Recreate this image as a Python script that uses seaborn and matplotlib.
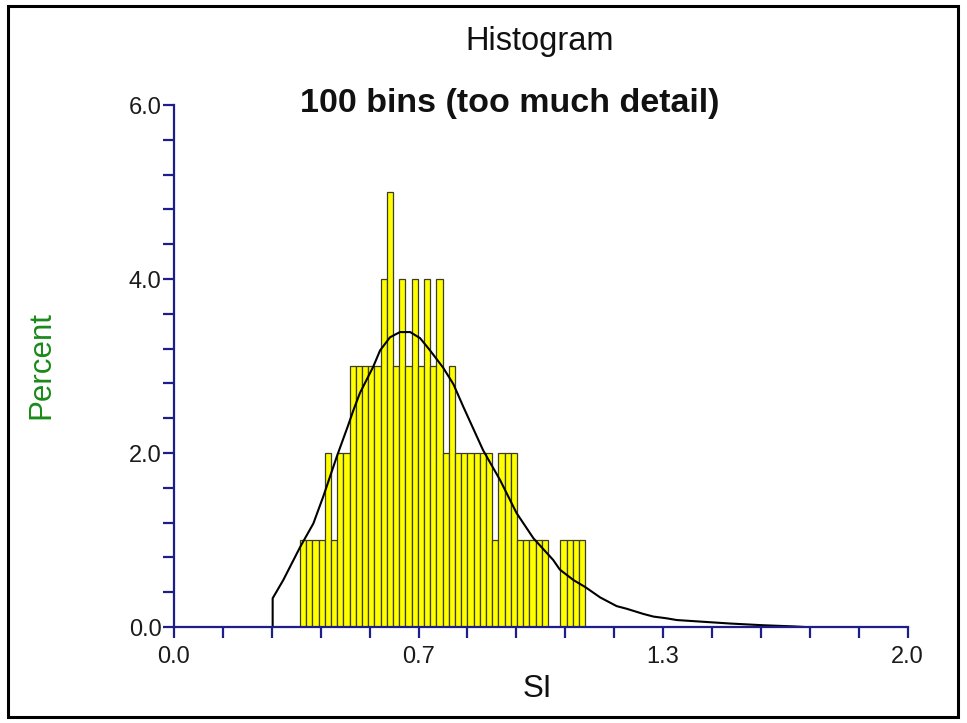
import numpy as np
import pandas as pd
import matplotlib
matplotlib.use("Agg")
import matplotlib.pyplot as plt
from matplotlib.patches import Rectangle
from matplotlib.ticker import MultipleLocator
import seaborn as sns

# ---------------- data ----------------
bin_start = 0.3436
bin_width = 0.01690
percents = [1, 1, 1, 1, 2, 1, 2, 2, 3, 3, 3, 3, 3, 4, 5, 3, 4, 3, 4, 3, 4, 3, 4,
            2, 3, 2, 2, 2, 2, 2, 2, 1, 2, 2, 2, 1, 1, 1, 1, 1, 0, 0, 1, 1, 1, 1]

curve_x = [0.269, 0.269, 0.298, 0.344, 0.380, 0.407, 0.444, 0.475, 0.489, 0.507,
           0.525, 0.543, 0.562, 0.589, 0.616, 0.644, 0.671, 0.698, 0.734, 0.762,
           0.789, 0.843, 0.889, 0.934, 0.980, 1.034, 1.052, 1.089, 1.121, 1.162,
           1.207, 1.234, 1.280, 1.307, 1.343, 1.371, 1.425, 1.516, 1.607, 1.689,
           1.720]
curve_y = [0.0, 0.33, 0.54, 0.92, 1.19, 1.50, 1.96, 2.32, 2.49, 2.69,
           2.84, 2.99, 3.18, 3.33, 3.39, 3.39, 3.32, 3.18, 2.98, 2.79,
           2.53, 2.03, 1.69, 1.31, 1.02, 0.77, 0.66, 0.54, 0.46, 0.34,
           0.24, 0.21, 0.15, 0.12, 0.10, 0.08, 0.065, 0.04, 0.02, 0.007,
           0.0]

x_ticks = [0.0, 2/3, 4/3, 2.0]
x_tick_labels = ["0.0", "0.7", "1.3", "2.0"]
y_ticks = [0.0, 2.0, 4.0, 6.0]
y_tick_labels = ["0.0", "2.0", "4.0", "6.0"]

title = "Histogram"
subtitle = "100 bins (too much detail)"
x_label = "SI"
y_label = "Percent"

# ---------------- plot ----------------
sns.set_theme(style="white")
plt.rcParams['font.family'] = ['Liberation Sans', 'DejaVu Sans']

edges = [bin_start + bin_width * i for i in range(len(percents) + 1)]
centers = [(edges[i] + edges[i + 1]) / 2 for i in range(len(percents))]
df = pd.DataFrame({"SI": centers, "pct": percents})
cdf = pd.DataFrame({"x": curve_x, "y": curve_y})

fig = plt.figure(figsize=(9.67, 7.23), dpi=100)
ax = fig.add_axes([174/967, 1 - 627/723, (907.5 - 174)/967, (627 - 105)/723])

sns.histplot(data=df, x="SI", weights="pct", bins=edges, ax=ax,
             color="#ffff00", edgecolor="#3c3c28", linewidth=0.9, alpha=1.0)
sns.lineplot(data=cdf, x="x", y="y", sort=False, estimator=None, ax=ax,
             color="black", linewidth=1.5)

navy = "#1e1e8a"
ax.set_xlim(0, 2.0)
ax.set_ylim(0, 6.0)
for s in ["top", "right"]:
    ax.spines[s].set_visible(False)
for s in ["left", "bottom"]:
    ax.spines[s].set_color(navy)
    ax.spines[s].set_linewidth(1.6)

ax.set_xticks(x_ticks)
ax.set_xticklabels(x_tick_labels)
ax.xaxis.set_minor_locator(MultipleLocator(2/15))
ax.set_yticks(y_ticks)
ax.set_yticklabels(y_tick_labels)
ax.yaxis.set_minor_locator(MultipleLocator(0.4))

ax.tick_params(axis="both", which="both", direction="out", color=navy,
               width=1.6, length=8, labelsize=17, labelcolor="#1a1a1a")
ax.tick_params(axis="x", which="both", bottom=True, pad=6)
ax.tick_params(axis="y", which="both", left=True, pad=1)

ax.set_xlabel("")
ax.set_ylabel("")

fig.text(0.558, 0.943, title, ha="center", va="center", fontsize=23.5, color="#111111")
fig.text(0.527, 0.857, subtitle, ha="center", va="center", fontsize=24.5,
         fontweight="bold", color="#111111")
fig.text(0.556, 0.047, x_label, ha="center", va="center", fontsize=22.5, color="#111111")
fig.text(0.043, 0.495, y_label, ha="center", va="center", fontsize=22.5,
         rotation=90, color="#1a8a1a")

fig.patches.append(Rectangle((8/967, 6/723), (958 - 8)/967, (717 - 6)/723,
                             transform=fig.transFigure, fill=False,
                             edgecolor="black", linewidth=2.2))

fig.savefig("out.png", dpi=100)
